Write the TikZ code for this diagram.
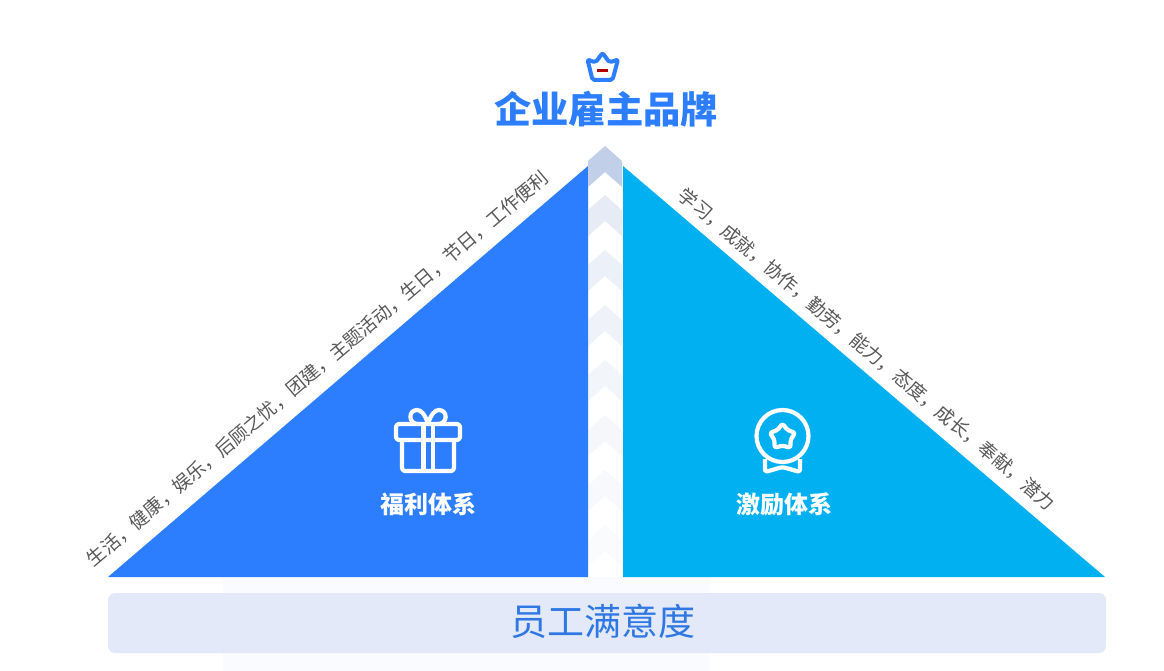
\documentclass[tikz,border=0pt]{standalone}
\usepackage{fontspec}
\setmainfont{Noto Sans CJK SC}
\usepackage{tikz}
\definecolor{bluefill}{HTML}{2C7EFF}
\definecolor{cyanfill}{HTML}{00B0F0}
\definecolor{bandfill}{HTML}{E3E9F9}
\definecolor{bandback}{HTML}{FAFBFE}
\definecolor{bandtext}{HTML}{2F78E4}
\definecolor{arrowfill}{HTML}{C1CFE8}
\definecolor{slopetext}{HTML}{595959}
\tikzstyle{slope} = [text=slopetext, font={\fontsize{18.7}{19}\selectfont}, inner sep=0pt]
\tikzstyle{system} = [text=white, font={\fontsize{24}{24}\selectfont\bfseries}, inner sep=0pt]
\tikzstyle{icon} = [draw=white, line width=4.2pt, line join=round, rounded corners=3pt]

\begin{document}
\begin{tikzpicture}[x=1pt,y=-1pt]
        \useasboundingbox[fill=white](0,0) rectangle (1164,671);
        \fill[bandback](223,577) rectangle (709,671);
        % triangles
        \fill[bluefill](108,577)--(588,166)--(588,577)--cycle;
        \fill[cyanfill](623,166)--(1105,577)--(623,577)--cycle;
        % chevrons
        \foreach \y/\o in {146/1,195/0.4,250/0.3,305/0.25,360/0.2,415/0.16,470/0.12,525/0.08}{
          \fill[arrowfill,opacity=\o](605,\y)--(622,\y+15)--(622,\y+41)--(605,\y+26)--(588,\y+41)--(588,\y+15)--cycle;
        }
        % band
        \fill[bandfill,rounded corners=7pt](108,593) rectangle (1106,653);
        \node[inner sep=0pt,text=bandtext,font={\fontsize{37}{37}\selectfont}](band) at (602.5,621){员工满意度};
        % title
        \node[inner sep=0pt,text=bluefill,font={\fontsize{37.3}{37}\selectfont\bfseries}](brand) at (606,109){企业雇主品牌};
        \draw[bluefill,line width=4pt,line join=round,rounded corners=2pt](602.5,53)--(609.5,62.5)--(618,59.5)--(612.5,80)--(592.5,80)--(587.5,59.5)--(595.5,62.5)--cycle;
        \draw[red!70!black,line width=3pt](597,71)--(608,71);
        % texts on the slopes
        \node[slope,rotate=40.3](welfare) at (317.5,368.5){生活，健康，娱乐，后顾之忧，团建，主题活动，生日，节日，工作便利};
        \node[slope,rotate=-40.2](reward) at (867,349){学习，成就，协作，勤劳，能力，态度，成长，奉献，潜力};
        \node[system](gifts) at (428,504){福利体系};
        \node[system](medals) at (784,504){激励体系};
        % gift
        \draw[icon](396,424) rectangle (460,440);
        \draw[icon](402,440)--(402,471)--(454,471)--(454,440);
        \draw[icon,rounded corners=0pt](423.5,424)--(423.5,471) (433,424)--(433,471);
        \draw[draw=white,line width=4.2pt](428,424) .. controls (425,414) and (421,410) .. (417,410) .. controls (408,410) and (408,424) .. (418,424);
        \draw[draw=white,line width=4.2pt](428,424) .. controls (431,414) and (435,410) .. (439,410) .. controls (448,410) and (448,424) .. (438,424);
        % medal
        \draw[draw=white,line width=4.2pt](782.5,436) circle (26);
        \draw[icon,rounded corners=2.5pt](782.5,423.5)--(787.5,430.1)--(795.3,432.8)--(790.6,439.6)--(790.4,447.9)--(782.5,445.5)--(774.6,447.9)--(774.4,439.6)--(769.7,432.8)--(777.5,430.1)--cycle;
        \draw[icon,rounded corners=2.5pt](765,459)--(765,472)--(782.5,467)--(800,472)--(800,459);
      \end{tikzpicture}
\end{document}
